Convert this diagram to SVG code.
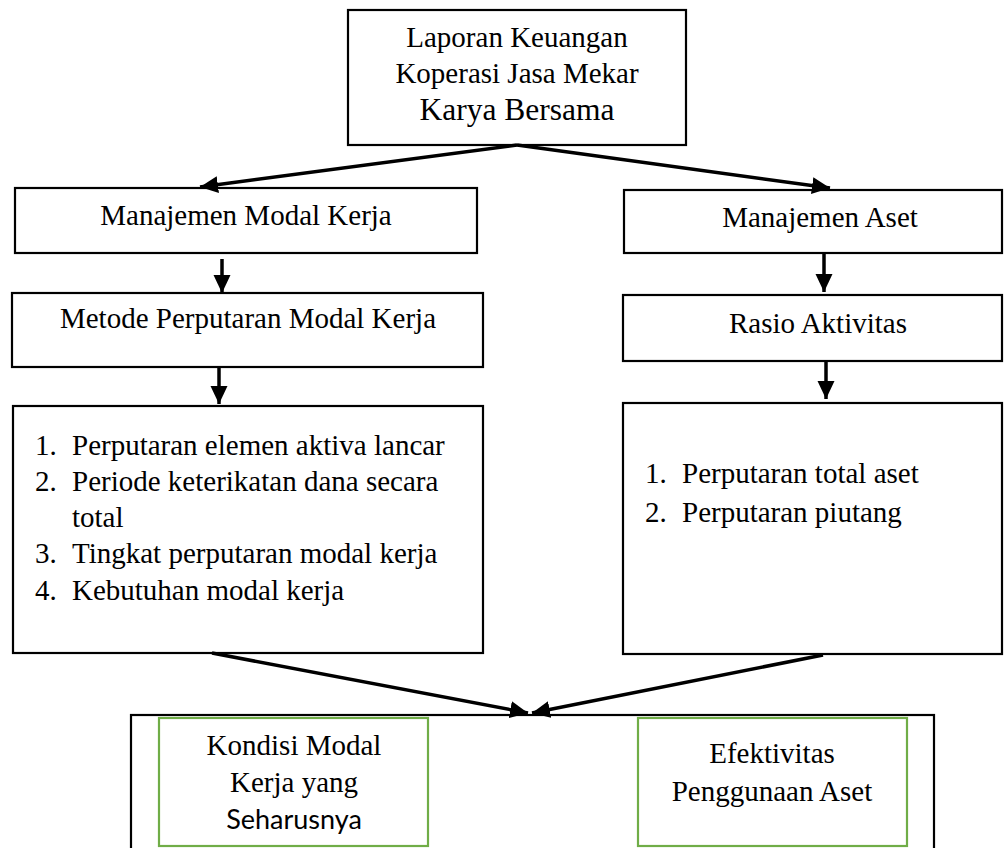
<svg xmlns="http://www.w3.org/2000/svg" width="1006" height="848" viewBox="0 0 1006 848">
<defs>
<style>
.box{fill:#fff;stroke:#000;stroke-width:2.2}
.gbox{fill:#fff;stroke:#70AD47;stroke-width:2.2}
.t{font-family:"Liberation Serif","Times New Roman",serif;font-size:29px;fill:#000}
.c{text-anchor:middle}
.s{font-family:Lato,"Liberation Sans",sans-serif;font-size:27px;fill:#000}
.ln{stroke:#000;stroke-width:3.5;fill:none}
</style>
<marker id="ah" markerUnits="userSpaceOnUse" markerWidth="20" markerHeight="18" refX="18" refY="8.5" orient="auto" viewBox="0 0 20 17">
<path d="M0,0 L18,8.5 L0,17 z" fill="#000"/>
</marker>
</defs>
<rect width="1006" height="848" fill="#fff"/>

<g id="bottom-container">
<rect class="box" x="131" y="715" width="803" height="150"/>
</g>

<g id="laporan">
<rect class="box" x="348" y="10" width="338" height="135"/>
<text class="t c" x="517" y="47">Laporan Keuangan</text>
<text class="t c" x="517" y="83">Koperasi Jasa Mekar</text>
<text class="t c" x="517" y="120" style="font-size:31.5px">Karya Bersama</text>
</g>

<g id="manajemen-modal">
<rect class="box" x="15" y="188" width="462" height="65"/>
<text class="t c" x="246" y="225">Manajemen Modal Kerja</text>
</g>

<g id="metode">
<rect class="box" x="12" y="293" width="471" height="74"/>
<text class="t c" x="248" y="328">Metode Perputaran Modal Kerja</text>
</g>

<g id="list-modal">
<rect class="box" x="13" y="406" width="470" height="247"/>
<text class="t" x="35" y="455">1.</text><text class="t" x="72" y="455">Perputaran elemen aktiva lancar</text>
<text class="t" x="35" y="491">2.</text><text class="t" x="72" y="491">Periode keterikatan dana secara</text>
<text class="t" x="72" y="527">total</text>
<text class="t" x="35" y="563">3.</text><text class="t" x="72" y="563">Tingkat perputaran modal kerja</text>
<text class="t" x="35" y="600">4.</text><text class="t" x="72" y="600">Kebutuhan modal kerja</text>
</g>

<g id="manajemen-aset">
<rect class="box" x="624" y="190" width="378" height="63"/>
<text class="t c" x="820" y="227">Manajemen Aset</text>
</g>

<g id="rasio">
<rect class="box" x="623" y="295" width="379" height="66"/>
<text class="t c" x="818" y="333">Rasio Aktivitas</text>
</g>

<g id="list-aset">
<rect class="box" x="623" y="403" width="379" height="251"/>
<text class="t" x="645" y="483">1.</text><text class="t" x="682" y="483">Perputaran total aset</text>
<text class="t" x="645" y="522">2.</text><text class="t" x="682" y="522">Perputaran piutang</text>
</g>

<g id="kondisi">
<rect class="gbox" x="159" y="718" width="269" height="128"/>
<text class="t c" x="294" y="755">Kondisi Modal</text>
<text class="t c" x="294" y="792">Kerja yang</text>
<text class="s c" x="294" y="829">Seharusnya</text>
</g>

<g id="efektivitas">
<rect class="gbox" x="638" y="718" width="269" height="128"/>
<text class="t c" x="772" y="763">Efektivitas</text>
<text class="t c" x="772" y="801">Penggunaan Aset</text>
</g>

<g id="connectors">
<line class="ln" x1="517" y1="145" x2="200" y2="187" marker-end="url(#ah)"/>
<line class="ln" x1="517" y1="145" x2="830" y2="188" marker-end="url(#ah)"/>
<line class="ln" x1="222" y1="259" x2="222" y2="293" marker-end="url(#ah)"/>
<line class="ln" x1="219" y1="367" x2="219" y2="404" marker-end="url(#ah)"/>
<line class="ln" x1="824" y1="253" x2="824" y2="292" marker-end="url(#ah)"/>
<line class="ln" x1="826" y1="361" x2="826" y2="399" marker-end="url(#ah)"/>
<line class="ln" x1="212" y1="653" x2="528" y2="713" marker-end="url(#ah)"/>
<line class="ln" x1="823" y1="655" x2="532" y2="713" marker-end="url(#ah)"/>
</g>
</svg>
